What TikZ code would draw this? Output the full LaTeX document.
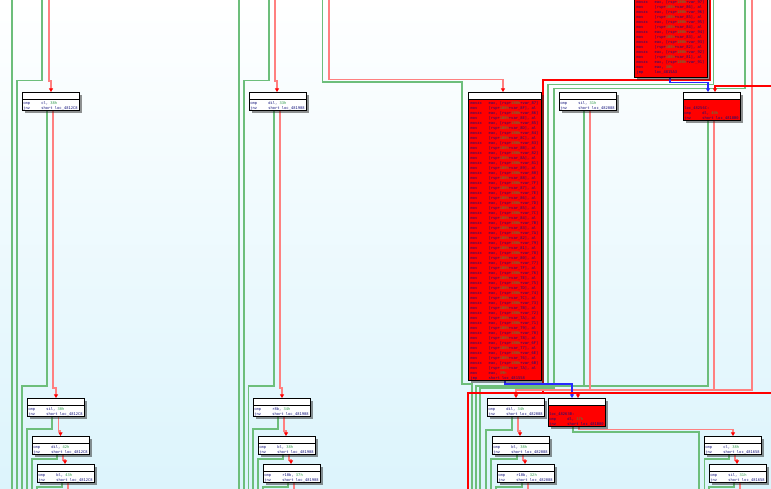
\documentclass[tikz,border=0pt]{standalone}
\usepackage{fontspec}
\usetikzlibrary{shadows,arrows.meta}
\newfontfamily\asmff{DejaVu Sans Mono}
\definecolor{gE}{HTML}{6DBE7B}
\definecolor{pR}{HTML}{FF8080}
\definecolor{bR}{HTML}{FF0000}
\definecolor{bL}{HTML}{2828FF}
\definecolor{ins}{HTML}{10107A}
\definecolor{num}{HTML}{2E9A4A}
\definecolor{bgb}{HTML}{DCF4FC}
\pgfdeclarelayer{bg}
\pgfdeclarelayer{edges}
\pgfsetlayers{bg,edges,main}
\newcommand\asmfont{\fontsize{3.75}{5}\selectfont\asmff\color{ins}}
\newcommand\nm[1]{\textcolor{num}{#1}}
\newcommand\asmln[2]{\hbox{\vrule height3.2pt depth1.2pt width0pt\makebox[18pt][l]{#1}#2}}
\newcommand\asmlab[1]{\hbox{\vrule height3.2pt depth1.2pt width0pt #1}}
\newcommand\asmblank{\hbox{\vrule height3.2pt depth1.2pt width0pt}}
\tikzset{
  gl/.style={draw=gE,line width=1.6pt},
  pl/.style={draw=pR,line width=1.6pt},
  rl/.style={draw=bR,line width=2pt},
  bll/.style={draw=bL,line width=1.5pt},
  rtip/.style={-{Triangle[length=3.6pt,width=4pt,color=bR]}},
  btip/.style={-{Triangle[length=3.6pt,width=4pt,color=bL]}},
  blk/.style={draw=black,line width=0.9pt,rectangle,inner sep=0pt,outer sep=0pt,
     drop shadow={shadow xshift=2.6pt,shadow yshift=-2.6pt,opacity=0.5,fill=black!85}},
}
\newcommand\idablk[7]{%
  \node[blk,fill=#6,minimum width=#4pt,minimum height=#5pt,anchor=north west,
    path picture={\fill[white] (path picture bounding box.north west) rectangle ([yshift=-7.5pt]path picture bounding box.north east);
      \draw[line width=0.8pt] ([yshift=-7.5pt]path picture bounding box.north west) -- ([yshift=-7.5pt]path picture bounding box.north east);}]
    (#1) at (#2,#3) {\parbox[c][#5pt][t]{\dimexpr#4pt-2pt\relax}{\asmfont\vspace*{8.8pt}#7}};}
\begin{document}
\begin{tikzpicture}[x=1pt,y=-1pt]
\useasboundingbox (0,0) rectangle (771,488);
\begin{pgfonlayer}{bg}
\shade[top color=white,bottom color=bgb] (0,0) rectangle (771,488);
\end{pgfonlayer}

% ---------- blocks ----------
\idablk{A1}{22}{92}{57}{18}{white}{\asmln{cmp}{cl, \nm{38h}}\asmln{jnz}{short loc\_4812C8}}
\idablk{B1}{27}{398}{57}{18}{white}{\asmln{cmp}{sil, \nm{30h}}\asmln{jnz}{short loc\_4812C8}}
\idablk{C1}{32}{436}{57}{18}{white}{\asmln{cmp}{dil, \nm{42h}}\asmln{jnz}{short loc\_4812C8}}
\idablk{D1}{37}{464}{57}{18}{white}{\asmln{cmp}{bl, \nm{43h}}\asmln{jnz}{short loc\_4812C8}}

\idablk{A2}{249}{92}{57}{18}{white}{\asmln{cmp}{dil, \nm{33h}}\asmln{jnz}{short loc\_481908}}
\idablk{B2}{253}{398}{57}{18}{white}{\asmln{cmp}{r8b, \nm{34h}}\asmln{jnz}{short loc\_481908}}
\idablk{C2}{258}{436}{57}{18}{white}{\asmln{cmp}{bl, \nm{38h}}\asmln{jnz}{short loc\_481908}}
\idablk{D2}{263}{464}{57}{18}{white}{\asmln{cmp}{r10b, \nm{37h}}\asmln{jnz}{short loc\_481908}}

\idablk{BIG}{468}{92}{73}{288}{bR}{%
  \foreach \a/\b in {87/8F,86/8E,85/8D,84/8C,83/8B,82/8A,81/89,80/88,7F/87,7E/86,7D/85,7C/84,7B/83,7A/82,79/81,78/80,77/7F,76/7E,75/7D,74/7C,73/7B,72/7A,71/79,70/78,6F/77,6E/76,6B/7A}{%
    \asmln{movzx}{eax, [rsp+\nm{1B8h}+var\_\a]}\asmln{mov}{[rsp+\nm{1B8h}+var\_\b], al}}%
  \asmln{mov}{eax, \nm{39h}}\asmln{jmp}{short loc\_481558}}

\idablk{B559}{559}{92}{57}{18}{white}{\asmln{cmp}{sil, \nm{31h}}\asmln{jnz}{short loc\_482088}}

\idablk{T}{634}{-8.5}{73}{85.5}{bR}{%
  \foreach \a/\b in {97/86,96/85,95/84,94/83,93/82,92/81}{%
    \asmln{movzx}{eax, [rsp+\nm{1B8h}+var\_\a]}\asmln{mov}{[rsp+\nm{1B8h}+var\_\b], al}}%
  \asmln{movzx}{eax, [rsp+\nm{1B8h}+var\_91]}\asmln{mov}{eax, \nm{30h}}\asmln{jmp}{loc\_4815A3}}

\idablk{R683}{683}{92}{57}{28}{bR}{\asmblank\asmlab{loc\_48256C:}\asmln{cmp}{dl, \nm{40h}}\asmln{jnz}{short loc\_4818B0}}

\idablk{B487}{487}{398}{57}{18}{white}{\asmln{cmp}{dil, \nm{34h}}\asmln{jnz}{short loc\_482088}}
\idablk{B492}{492}{436}{57}{18}{white}{\asmln{cmp}{bl, \nm{38h}}\asmln{jnz}{short loc\_482088}}
\idablk{B497}{497}{464}{57}{18}{white}{\asmln{cmp}{r10b, \nm{32h}}\asmln{jnz}{short loc\_482088}}
\idablk{R548}{548}{398}{57}{28}{bR}{\asmblank\asmlab{loc\_48263B:}\asmln{cmp}{dl, \nm{37h}}\asmln{jnz}{short loc\_481B00}}
\idablk{B704}{704}{436}{57}{18}{white}{\asmln{cmp}{cl, \nm{38h}}\asmln{jnz}{short loc\_481658}}
\idablk{B709}{709}{464}{57}{18}{white}{\asmln{cmp}{sil, \nm{31h}}\asmln{jnz}{short loc\_481658}}

% ---------- edges ----------
\begin{pgfonlayer}{edges}
% left column
\draw[gl] (12,0) -- (12,490);
\draw[gl] (42,0) -- (42,80.5) -- (17,80.5) -- (17,490);
\draw[pl,rtip] (49,0) -- (49,81) -- (51,81) -- (A1.north -| 51,0);
\draw[gl] (A1.south -| 47,0) -- (47,386) -- (22,386) -- (22,490);
\draw[pl,rtip] (A1.south -| 53,0) -- (53,388) -- (56,388) -- (B1.north -| 56,0);
\draw[gl] (B1.south -| 52,0) -- (52,429) -- (27,429) -- (27,490);
\draw[pl,rtip] (B1.south -| 58.5,0) -- (58.5,431) -- (60.5,431) -- (C1.north -| 60.5,0);
\draw[gl] (C1.south -| 57,0) -- (57,459) -- (32,459) -- (32,490);
\draw[pl,rtip] (C1.south -| 63,0) -- (63,460) -- (65,460) -- (D1.north -| 65,0);
\draw[gl] (D1.south -| 62,0) -- (62,487) -- (37,487) -- (37,490);
\draw[pl] (D1.south -| 68,0) -- (68,490);
% middle column
\draw[gl] (239,0) -- (239,490);
\draw[gl] (269,0) -- (269,80.5) -- (244,80.5) -- (244,490);
\draw[pl,rtip] (275,0) -- (275,81) -- (277,81) -- (A2.north -| 277,0);
\draw[gl] (A2.south -| 274,0) -- (274,386) -- (248.5,386) -- (248.5,490);
\draw[pl,rtip] (A2.south -| 280,0) -- (280,388) -- (282,388) -- (B2.north -| 282,0);
\draw[gl] (B2.south -| 278,0) -- (278,429) -- (253,429) -- (253,490);
\draw[pl,rtip] (B2.south -| 284,0) -- (284,431) -- (286,431) -- (C2.north -| 286,0);
\draw[gl] (C2.south -| 283,0) -- (283,459) -- (258,459) -- (258,490);
\draw[pl,rtip] (C2.south -| 289,0) -- (289,460) -- (291,460) -- (D2.north -| 291,0);
\draw[gl] (D2.south -| 288,0) -- (288,487) -- (263,487) -- (263,490);
\draw[pl] (D2.south -| 294,0) -- (294,490);
% upper right
\draw[gl] (322.5,0) -- (322.5,82) -- (462,82) -- (462,384) -- (472,384) -- (472,490);
\draw[pl,rtip] (329,0) -- (329,79.5) -- (503,79.5) -- (BIG.north -| 503,0);
\draw[rl] (710,0) -- (710,80) -- (543,80) -- (543,393);
\draw[gl] (713.5,0) -- (713.5,84.5) -- (548,84.5) -- (548,386);
\draw[gl] (745,0) -- (745,88.5) -- (554,88.5) -- (554,388) -- (480,388) -- (480,490);
\draw[pl] (752,0) -- (752,390) -- (714,390);
\draw[rl,rtip] (771,86) -- (715,86) -- (R683.north -| 715,0);
\draw[bll,btip] (T.south -| 670,0) -- (670,82.5) -- (708,82.5) -- (R683.north -| 708,0);
\draw[gl] (R683.south -| 708,0) -- (708,386) -- (476,386) -- (476,490);
\draw[pl,rtip] (R683.south -| 714,0) -- (714,390) -- (516,390) -- (B487.north -| 516,0);
\draw[gl] (B559.south -| 584,0) -- (584,386);
\draw[pl] (B559.south -| 590,0) -- (590,390);
\draw[bll,btip] (BIG.south -| 505,0) -- (505,384) -- (572,384) -- (R548.north -| 572,0);
\draw[rl] (771,393) -- (468,393) -- (468,490);
\draw[rl,rtip] (578,393) -- (R548.north -| 578,0);
% lower right
\draw[gl] (B487.south -| 512,0) -- (512,430) -- (486,430) -- (486,490);
\draw[pl,rtip] (B487.south -| 518,0) -- (518,431) -- (520,431) -- (B492.north -| 520,0);
\draw[gl] (B492.south -| 517,0) -- (517,459) -- (491,459) -- (491,490);
\draw[pl,rtip] (B492.south -| 523,0) -- (523,460) -- (525,460) -- (B497.north -| 525,0);
\draw[gl] (B497.south -| 522,0) -- (522,487) -- (496,487) -- (496,490);
\draw[pl] (B497.south -| 528,0) -- (528,490);
\draw[gl] (R548.south -| 573,0) -- (573,432) -- (699,432) -- (699,490);
\draw[pl,rtip] (R548.south -| 579,0) -- (579,429.5) -- (733,429.5) -- (B704.north -| 733,0);
\draw[gl] (B704.south -| 729,0) -- (729,459) -- (704.5,459) -- (704.5,490);
\draw[pl,rtip] (B704.south -| 735,0) -- (735,460) -- (737,460) -- (B709.north -| 737,0);
\draw[gl] (B709.south -| 734,0) -- (734,487) -- (709,487) -- (709,490);
\draw[pl] (B709.south -| 740,0) -- (740,490);
\end{pgfonlayer}
\end{tikzpicture}
\end{document}
